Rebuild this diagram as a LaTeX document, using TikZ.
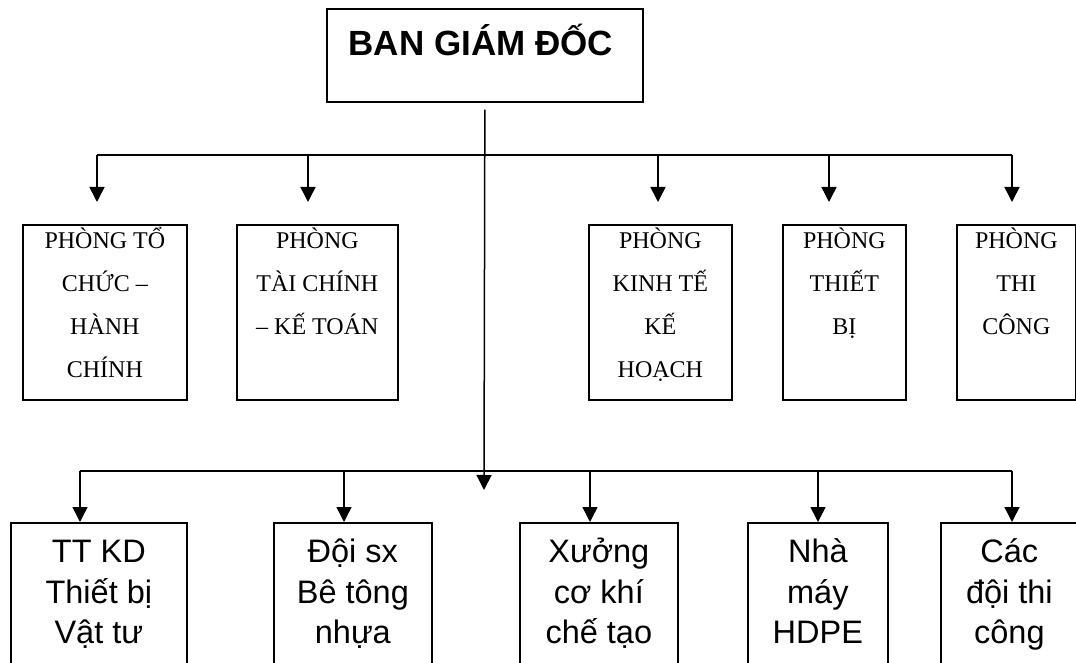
\documentclass[tikz,border=0pt]{standalone}
\usepackage{fontspec}
\setmainfont{Liberation Serif}
\newfontfamily\arialf{Liberation Sans}
\usetikzlibrary{arrows.meta,calc}
\newcommand\mkupbox[2]{\parbox[c][175pt][t]{#1}{\centering\rule{0pt}{24pt}#2}}
\newcommand\mklowbox[2]{\parbox[c][160pt][t]{#1}{\centering\rule{0pt}{40pt}#2}}
\begin{document}
\begin{tikzpicture}[x=1pt,y=1pt,
  box/.style={draw,line width=1.7pt,inner sep=0pt,anchor=north west},
  upper/.style={box,font=\fontsize{24pt}{43pt}\selectfont},
  lower/.style={box,font=\arialf\fontsize{32.5pt}{40.5pt}\selectfont},
  conn/.style={line width=1.5pt},
  arr/.style={conn,-{Triangle[length=15pt,width=15pt]}}]
\path[use as bounding box] (0,0) rectangle (1076,662);
\clip (0,0) rectangle (1076,662);

% top box
\node[box,font=\arialf\bfseries\fontsize{35pt}{40pt}\selectfont] (bgd) at (326,654)
  {\parbox[c][93pt][t]{316pt}{\centering\rule{0pt}{47pt}BAN GIÁM ĐỐC\hspace*{8pt}}};

% upper row
\node[upper] (p1) at (22,438)  {\mkupbox{164pt}{PHÒNG TỔ\\CHỨC –\\HÀNH\\CHÍNH}};
\node[upper] (p2) at (236,438) {\mkupbox{161pt}{PHÒNG\\TÀI CHÍNH\\– KẾ TOÁN}};
\node[upper] (p3) at (588,438) {\mkupbox{143pt}{PHÒNG\\KINH TẾ\\KẾ\\HOẠCH}};
\node[upper] (p4) at (782,438) {\mkupbox{123pt}{PHÒNG\\THIẾT\\BỊ}};
\node[upper] (p5) at (956,438) {\mkupbox{119pt}{PHÒNG\\THI\\CÔNG}};

% lower row
\node[lower] (b1) at (10,140)  {\mklowbox{176pt}{TT KD\\Thiết bị\\Vật tư}};
\node[lower] (b2) at (273,140) {\mklowbox{158pt}{Đội sx\\Bê tông\\nhựa}};
\node[lower] (b3) at (519,140) {\mklowbox{158pt}{Xưởng\\cơ khí\\chế tạo}};
\node[lower] (b4) at (747,140) {\mklowbox{140pt}{Nhà\\máy\\HDPE}};
\node[lower] (b5) at (940,140) {\mklowbox{137pt}{Các\\đội thi\\công}};

% connectors
\coordinate (t0) at ($(bgd.south)+(0,-7)$);
\coordinate (tip) at (484,172);
\draw[arr] (t0) -- (tip);

\coordinate (u1) at (97,507);
\coordinate (u2) at (308,507);
\coordinate (u3) at (658,507);
\coordinate (u4) at (829,507);
\coordinate (u5) at (1012,507);
\draw[conn] (u1) -- (u5);
\draw[arr] (u1) -- ($(u1 |- p1.north)+(0,22)$);
\draw[arr] (u2) -- ($(u2 |- p2.north)+(0,22)$);
\draw[arr] (u3) -- ($(u3 |- p3.north)+(0,22)$);
\draw[arr] (u4) -- ($(u4 |- p4.north)+(0,22)$);
\draw[arr] (u5) -- ($(u5 |- p5.north)+(0,22)$);

\coordinate (l1) at (80,191);
\coordinate (l2) at (344,191);
\coordinate (l3) at (590,191);
\coordinate (l4) at (818,191);
\coordinate (l5) at (1012,191);
\draw[conn] (l1) -- (l5);
\draw[arr] (l1) -- (l1 |- b1.north);
\draw[arr] (l2) -- (l2 |- b2.north);
\draw[arr] (l3) -- (l3 |- b3.north);
\draw[arr] (l4) -- (l4 |- b4.north);
\draw[arr] (l5) -- (l5 |- b5.north);
\end{tikzpicture}
\end{document}
